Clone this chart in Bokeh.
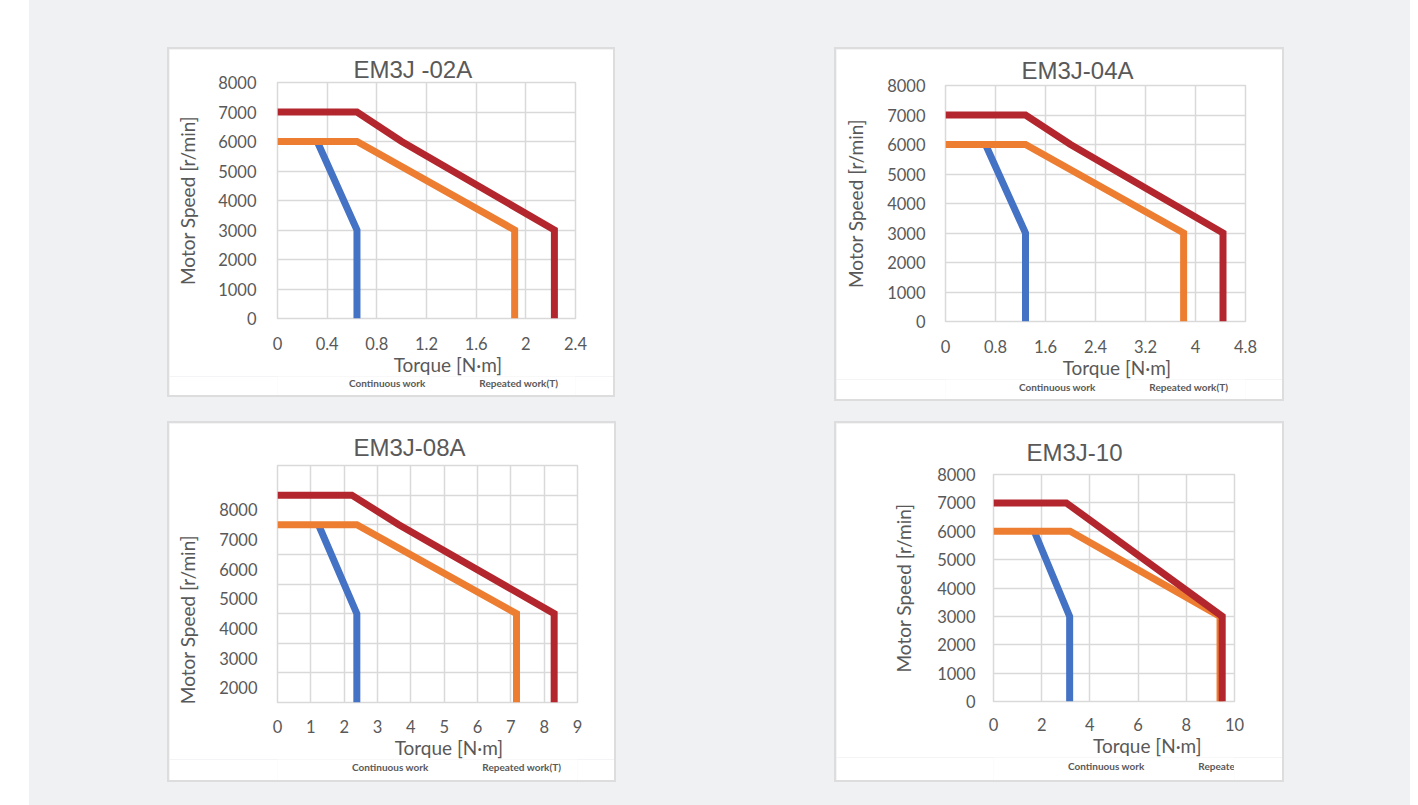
from bokeh.plotting import figure
from bokeh.models import (Range1d, FixedTicker, CustomJSTickFormatter,
                          Legend, LegendItem, Spacer)
from bokeh.layouts import row, column
from bokeh.embed import file_html
from bokeh.resources import INLINE

# ---------------- data ----------------
series_names = ["Continuous work", "Repeated work(T)", "Repeated work(L)"]
titles = ["EM3J -02A", "EM3J-04A", "EM3J-08A", "EM3J-10"]
x_title = "Torque [N·m]"
y_title = "Motor Speed [r/min]"

# EM3J-02A
a_cont_x = [0.32, 0.64, 0.64]
a_cont_y = [6000, 3000, 0]
a_rept_x = [0, 0.64, 1.91, 1.91]
a_rept_y = [6000, 6000, 3000, 0]
a_repl_x = [0, 0.64, 1.0, 2.23, 2.23]
a_repl_y = [7000, 7000, 6000, 3000, 0]
a_xticks = [0, 0.4, 0.8, 1.2, 1.6, 2, 2.4]
a_yticks = [0, 1000, 2000, 3000, 4000, 5000, 6000, 7000, 8000]

# EM3J-04A
b_cont_x = [0.64, 1.28, 1.28]
b_cont_y = [6000, 3000, 0]
b_rept_x = [0, 1.28, 3.81, 3.81]
b_rept_y = [6000, 6000, 3000, 0]
b_repl_x = [0, 1.28, 2.0, 4.44, 4.44]
b_repl_y = [7000, 7000, 6000, 3000, 0]
b_xticks = [0, 0.8, 1.6, 2.4, 3.2, 4, 4.8]
b_yticks = [0, 1000, 2000, 3000, 4000, 5000, 6000, 7000, 8000]

# EM3J-08A (grid lines every 1000 from 1500 to 9500)
c_cont_x = [1.23, 2.38, 2.38]
c_cont_y = [7500, 4500, 1500]
c_rept_x = [0, 2.38, 7.17, 7.17]
c_rept_y = [7500, 7500, 4500, 1500]
c_repl_x = [0, 2.23, 3.64, 8.3, 8.3]
c_repl_y = [8500, 8500, 7500, 4500, 1500]
c_xticks = [0, 1, 2, 3, 4, 5, 6, 7, 8, 9]
c_yticks = [2000, 3000, 4000, 5000, 6000, 7000, 8000]
c_grid = [1500, 2500, 3500, 4500, 5500, 6500, 7500, 8500, 9500]

# EM3J-10
d_cont_x = [1.69, 3.16, 3.16]
d_cont_y = [6000, 3000, 0]
d_rept_x = [0, 3.18, 9.4, 9.4]
d_rept_y = [6000, 6000, 3000, 0]
d_repl_x = [0, 3.02, 9.49, 9.49]
d_repl_y = [7000, 7000, 3000, 0]
d_xticks = [0, 2, 4, 6, 8, 10]
d_yticks = [0, 1000, 2000, 3000, 4000, 5000, 6000, 7000, 8000]

# ---------------- style ----------------
LINE_COLORS = ["#4472c4", "#ed7d31", "#b4262d"]
LEGEND_COLORS = ["#4472c4", "#f6b33a", "#b4262d"]
GRID = "#d9d9d9"
BORDER = "2px solid #dddddd"
TXT = "#595959"
FONT = "Lato"
EM = "\u2003"
EN = "\u2002"


def panel(title, series, xticks, yticks, grid_ticks, yr, W, Hm, Hl, mb, lay):
    x0, x1 = xticks[0], xticks[-1]
    p = figure(width=W, height=Hm,
               x_range=Range1d(x0, x1), y_range=Range1d(yr[0], yr[1]),
               output_backend="svg", toolbar_location=None,
               min_border_left=mb[0], min_border_right=mb[1],
               min_border_top=mb[2], min_border_bottom=mb[3],
               background_fill_color="white", border_fill_color="white",
               outline_line_color=GRID, outline_line_width=1.5,
               styles={"border": BORDER, "border-bottom": "none"})

    p.title.text = title
    p.title.align = "left"
    p.title.offset = lay["title_off"]
    p.title.standoff = lay["title_s"]
    p.title.text_font = "Liberation Sans"
    p.title.text_font_size = "24px"
    p.title.text_font_style = "normal"
    p.title.text_color = TXT

    p.xaxis.ticker = FixedTicker(ticks=xticks)
    p.yaxis.ticker = FixedTicker(ticks=yticks)
    p.xgrid.ticker = FixedTicker(ticks=xticks)
    p.ygrid.ticker = FixedTicker(ticks=grid_ticks)
    p.xaxis.formatter = CustomJSTickFormatter(code="return tick.toString();")
    p.yaxis.formatter = CustomJSTickFormatter(code="return tick.toString();")

    for ax in (p.xaxis, p.yaxis):
        ax.axis_line_color = None
        ax.major_tick_line_color = None
        ax.minor_tick_line_color = None
        ax.major_tick_out = 0
        ax.major_tick_in = 0
        ax.minor_tick_out = 0
        ax.major_label_text_font = FONT
        ax.major_label_text_font_size = "16.5px"
        ax.major_label_text_color = TXT
        ax.axis_label_text_font = FONT
        ax.axis_label_text_font_size = "19px"
        ax.axis_label_text_font_style = "normal"
        ax.axis_label_text_color = TXT
    p.yaxis.major_label_standoff = lay["ystand"]
    p.xaxis.major_label_standoff = lay["xstand"]
    p.yaxis.axis_label = y_title + lay.get("ypad", "")
    p.yaxis.axis_label_standoff = lay["yals"]
    p.xaxis.axis_label = lay["xpad"] + x_title
    p.xaxis.axis_label_standoff = 0

    for g in (p.xgrid, p.ygrid):
        g.grid_line_color = GRID
        g.grid_line_width = 1.5

    for (xs, ys), c in zip(series, LINE_COLORS):
        p.line(xs, ys, line_color=c, line_width=7, line_join="miter")

    # legend strip at the bottom of the panel
    q = figure(width=W, height=Hl, x_range=Range1d(0, 1), y_range=Range1d(0, 1),
               x_axis_type=None, y_axis_type=None,
               output_backend="svg", toolbar_location=None,
               min_border=0, min_border_left=0, min_border_right=0,
               min_border_top=0, min_border_bottom=0,
               background_fill_color="white", border_fill_color="white",
               outline_line_color=None,
               styles={"border": BORDER, "border-top": "none"})
    items = []
    for name, c in zip(series_names, LEGEND_COLORS):
        r = q.line([], [], line_color=c, line_width=5, line_cap="round")
        items.append(LegendItem(label=name, renderers=[r]))
    leg = Legend(items=items, orientation="horizontal", location=lay["leg"],
                 glyph_width=45, glyph_height=14, label_height=14,
                 label_standoff=3, spacing=6, padding=0, margin=0,
                 border_line_color=None, background_fill_alpha=0,
                 label_text_font=FONT, label_text_font_style="bold",
                 label_text_font_size="10px", label_text_color=TXT)
    q.add_layout(leg)
    return column(p, q)


c1 = panel(titles[0], [(a_cont_x, a_cont_y), (a_rept_x, a_rept_y), (a_repl_x, a_repl_y)],
           a_xticks, a_yticks, a_yticks, (0, 8000), 448, 329, 21, (108, 42, 33, 60),
           dict(title_off=76, title_s=0, ystand=21, yals=16, xstand=18,
                xpad=EM * 3, leg=(24, 7)))
c2 = panel(titles[1], [(b_cont_x, b_cont_y), (b_rept_x, b_rept_y), (b_repl_x, b_repl_y)],
           b_xticks, b_yticks, b_yticks, (0, 8000), 450, 332, 22, (109, 41, 36, 60),
           dict(title_off=76, title_s=3, ystand=20, yals=17, xstand=18,
                xpad=EM * 3, leg=(26, 7)))
c3 = panel(titles[2], [(c_cont_x, c_cont_y), (c_rept_x, c_rept_y), (c_repl_x, c_repl_y)],
           c_xticks, c_yticks, c_grid, (1500, 9500), 449, 338, 23, (108, 41, 42, 59),
           dict(title_off=76, title_s=9, ystand=20, yals=17, xstand=17,
                xpad=EM * 3, ypad=EM * 5, leg=(27, 8)))
c4 = panel(titles[3], [(d_cont_x, d_cont_y), (d_rept_x, d_rept_y), (d_repl_x, d_repl_y)],
           d_xticks, d_yticks, d_yticks, (0, 8000), 450, 336, 25, (157, 52, 51, 58),
           dict(title_off=33, title_s=18, ystand=18, yals=19, xstand=16,
                xpad=EM * 4 + EN, leg=(27, 9)))

row1 = row(Spacer(width=138, height=10), c1, Spacer(width=219, height=10), c2,
           Spacer(width=126, height=10))
row2 = row(Spacer(width=138, height=10), c3, Spacer(width=218, height=10), c4,
           Spacer(width=126, height=10))
gray = column(Spacer(width=1381, height=47), row1, Spacer(width=10, height=20), row2,
              Spacer(width=10, height=23), styles={"background-color": "#f0f1f3"})
page = row(Spacer(width=29, height=10), gray)

open("out.html", "w").write(file_html(page, INLINE))
